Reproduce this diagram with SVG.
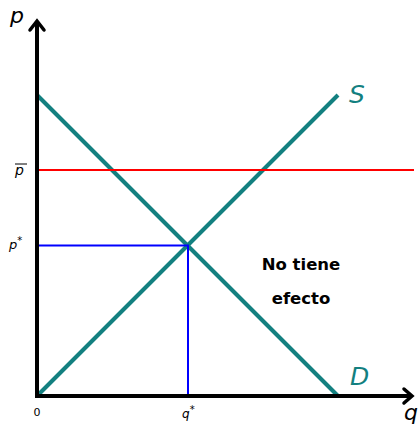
<svg xmlns="http://www.w3.org/2000/svg" width="420" height="426" viewBox="0 0 420 426">
<style>
.ax{stroke:#000;stroke-width:4;fill:none;stroke-linecap:butt}
.arr{stroke:#000;stroke-width:3.5;fill:none;stroke-linecap:round;stroke-linejoin:miter}
.curve{stroke:#138080;stroke-width:4;fill:none}
.lbl{font-family:"DejaVu Sans",sans-serif;font-style:italic;fill:#000}
.cl{font-family:"DejaVu Sans",sans-serif;font-style:italic;fill:#138080;font-size:25px}
.note{font-family:"DejaVu Sans",sans-serif;font-weight:bold;font-size:16.5px;fill:#000;text-anchor:middle}
</style>
<rect width="420" height="426" fill="#fff"/>
<g id="connectors">
<line class="curve" x1="37" y1="396" x2="338" y2="95"/>
<line class="curve" x1="37" y1="95" x2="338" y2="396"/>
<line x1="37" y1="170" x2="414" y2="170" stroke="#f00" stroke-width="2"/>
<polyline points="37,245.5 188,245.5 188,396" stroke="#00f" stroke-width="2" fill="none"/>
</g>
<g id="axes">
<line class="ax" x1="37" y1="398" x2="37" y2="22"/>
<line class="ax" x1="35" y1="396" x2="411" y2="396"/>
<polyline class="arr" points="30,30 37,21 44,30"/>
<polyline class="arr" points="404,389 412,396 404,403"/>
</g>
<g id="labels">
<text class="lbl" x="10" y="23" font-size="22">p</text>
<text class="lbl" x="404" y="420" font-size="22">q</text>
<text x="37" y="416" font-family="DejaVu Sans,sans-serif" font-size="11" text-anchor="middle">0</text>
<text class="lbl" x="182" y="418" font-size="12">q<tspan dy="-5" font-size="10" font-style="normal">*</tspan></text>
<text class="lbl" x="15" y="175" font-size="14">p</text>
<line x1="15" y1="164" x2="27" y2="164" stroke="#000" stroke-width="1"/>
<text class="lbl" x="9" y="249" font-size="13">p<tspan dy="-5" font-size="10" font-style="normal">*</tspan></text>
<text class="cl" x="349" y="103">S</text>
<text class="cl" x="350" y="385">D</text>
</g>
<g id="note">
<text class="note" x="301" y="270">No tiene</text>
<text class="note" x="301" y="304">efecto</text>
</g>
</svg>
